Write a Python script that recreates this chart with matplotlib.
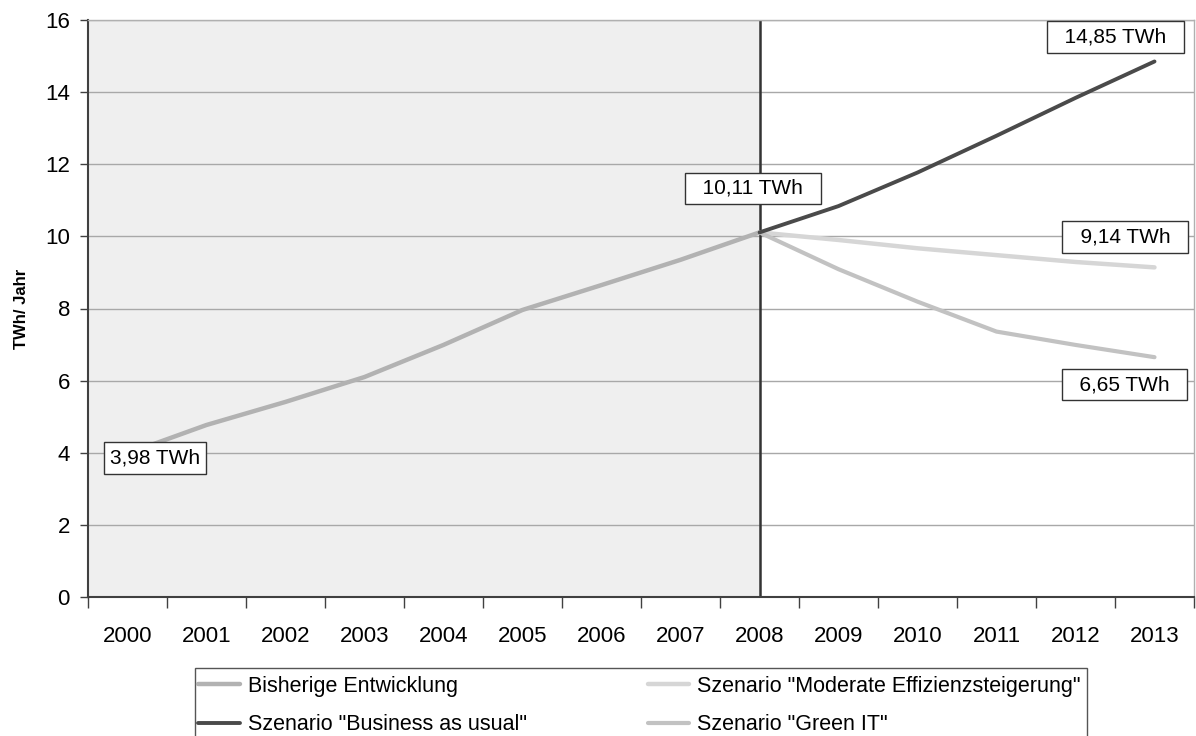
import matplotlib
matplotlib.use("Agg")
import matplotlib.pyplot as plt
from matplotlib.ticker import MultipleLocator, FixedLocator
from matplotlib.patches import Rectangle
import numpy as np

plt.rcParams['font.family'] = ['Liberation Sans', 'DejaVu Sans']

years = [str(y) for y in range(2000, 2014)]
hist_years = list(range(0, 9))        # 2000..2008
scen_years = list(range(8, 14))       # 2008..2013

bisherige = [3.98, 4.77, 5.41, 6.10, 6.99, 7.96, 8.65, 9.35, 10.11]
bau = [10.11, 10.84, 11.77, 12.79, 13.84, 14.85]
moderate = [10.11, 9.90, 9.67, 9.48, 9.29, 9.14]
green_it = [10.11, 9.09, 8.19, 7.36, 6.99, 6.65]

labels = ["Bisherige Entwicklung", 'Szenario "Business as usual"',
          'Szenario "Moderate Effizienzsteigerung"', 'Szenario "Green IT"']

ann_texts = ["3,98 TWh", "10,11 TWh", "14,85 TWh", "9,14 TWh", "6,65 TWh"]
ann_x = [0.35, 7.92, 12.51, 12.63, 12.62]
ann_y = [3.86, 11.33, 15.53, 9.98, 5.89]
ann_spaces = [0, 2, 2, 2, 2]

fig = plt.figure(figsize=(11.96, 7.36), dpi=100)
ax = fig.add_axes([88/1196, 1-597/736, (1194-88)/1196, (597-20)/736])

ax.set_xlim(-0.5, 13.5)
ax.set_ylim(0, 16)

ax.axvspan(-0.5, 8, color='#efefef', zorder=0, lw=0)
ax.yaxis.set_major_locator(MultipleLocator(2))
ax.grid(axis='y', color='#a8a8a8', lw=1, zorder=1)
ax.set_axisbelow(True)

ax.axvline(8, color='#333333', lw=1.8, zorder=2)

l1, = ax.plot(hist_years, bisherige, color='#b2b2b2', lw=3.2, zorder=3, solid_capstyle='round')
l3, = ax.plot(scen_years, moderate, color='#d6d6d6', lw=3.2, zorder=3, solid_capstyle='round')
l4, = ax.plot(scen_years, green_it, color='#c2c2c2', lw=3.0, zorder=3, solid_capstyle='round')
l2, = ax.plot(scen_years, bau, color='#4a4a4a', lw=2.8, zorder=4, solid_capstyle='round')

for txt, x, y, ns in zip(ann_texts, ann_x, ann_y, ann_spaces):
    sp = " " * ns
    ax.text(x, y, sp + txt + sp, ha='center', va='center', fontsize=15, zorder=6,
            bbox=dict(boxstyle='square,pad=0.3', fc='white', ec='#333333', lw=1))

ax.set_xticks(range(14))
ax.set_xticklabels(years, fontsize=16)
ax.xaxis.set_minor_locator(FixedLocator(np.arange(-0.5, 14, 1)))
ax.tick_params(axis='x', which='major', length=0, pad=21)
ax.tick_params(axis='x', which='minor', length=8, width=1, color='#404040', direction='out')
ax.tick_params(axis='y', length=6, width=1, color='#404040', direction='out', pad=7, labelsize=16)

for s in ['left', 'bottom']:
    ax.spines[s].set_color('#404040')
    ax.spines[s].set_linewidth(1.5)
for s in ['top', 'right']:
    ax.spines[s].set_color('#b0b0b0')
    ax.spines[s].set_linewidth(1)

ax.set_ylabel("TWh/ Jahr", fontsize=12, fontweight='bold')
ax.yaxis.set_label_coords(-(88-29)/1106, 0.5)

# legend frame (cut by the figure's lower edge)
fig.patches.append(Rectangle((195/1196, -0.05), (1087-195)/1196, 0.05 + 1-668/736,
                             transform=fig.transFigure, fill=False, ec='#555555', lw=1))
leg = fig.legend([l1, l2, l3, l4], labels, loc='upper left',
                 bbox_to_anchor=(198/1196, 1-676/736), ncol=2, frameon=False,
                 prop={'size': 15.5},
                 handlelength=1.95, handletextpad=0.37, columnspacing=5.6,
                 borderaxespad=0, borderpad=0, labelspacing=0.8)

fig.savefig("out.png", dpi=100)
